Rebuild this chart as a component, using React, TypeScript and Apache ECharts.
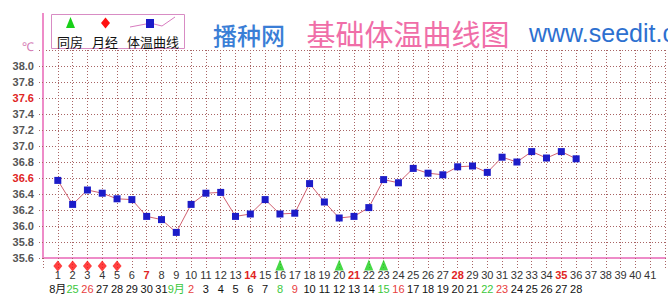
import React, { useEffect, useRef } from "react";
import * as echarts from "echarts";

// ---- data ----
const temps: number[] = [
  36.57, 36.27, 36.45, 36.41, 36.34, 36.33, 36.12, 36.08, 35.92, 36.27,
  36.41, 36.42, 36.12, 36.15, 36.33, 36.15, 36.16, 36.53, 36.3, 36.1,
  36.12, 36.23, 36.58, 36.54, 36.72, 36.66, 36.64, 36.74, 36.75, 36.67,
  36.86, 36.8, 36.93, 36.85, 36.93, 36.84,
];
const intercourseDays: number[] = [16, 20, 22, 23];
const periodDays: number[] = [1, 2, 3, 4, 5];
const redDayNumbers: number[] = [7, 14, 21, 28, 35];
const dateLabels: string[] = [
  "8月", "25", "26", "27", "28", "29", "30", "31", "9月", "2",
  "3", "4", "5", "6", "7", "8", "9", "10", "11", "12",
  "13", "14", "15", "16", "17", "18", "19", "20", "21", "22",
  "23", "24", "25", "26", "27", "28",
];
const greenDateDays: number[] = [2, 9, 16, 23, 30];
const redDateDays: number[] = [3, 10, 17, 24, 31];
const redYTicks: string[] = ["37.6", "36.6"];
const maxDay = 41;

const PINK = "#ee8cc8";
const GRIDC = "#a86464";

export default function App() {
  const ref = useRef<HTMLDivElement>(null);
  useEffect(() => {
    document.body.style.margin = "0";
    const chart = echarts.init(ref.current!, undefined, { renderer: "svg" });
    const lineData = temps.map((t, i) => [i + 1, t]);
    const option: any = {
      animation: false,
      backgroundColor: "#ffffff",
      grid: { left: 43, right: -5, top: 50, bottom: 45 },
      xAxis: {
        type: "value",
        min: 0,
        max: 42,
        interval: 1,
        axisLine: { show: true, lineStyle: { color: PINK, width: 2 } },
        axisTick: {
          show: true,
          inside: false,
          length: 10,
          lineStyle: { color: GRIDC, type: [1, 2], width: 1 },
        },
        splitLine: { show: true, lineStyle: { color: GRIDC, type: [1, 2], width: 1 } },
        axisLabel: {
          margin: 10,
          formatter: (v: number) => {
            if (v < 1 || v > maxDay || Math.round(v) !== v) return "";
            const top = redDayNumbers.includes(v) ? `{r|${v}}` : `{n|${v}}`;
            const d = dateLabels[v - 1];
            let bottom = "{d| }";
            if (d !== undefined) {
              const st = greenDateDays.includes(v) ? "g" : redDateDays.includes(v) ? "p" : "d";
              bottom = `{${st}|${d}}`;
            }
            return top + "\n" + bottom;
          },
          rich: {
            n: { color: "#333", fontSize: 11, fontFamily: "Arial", lineHeight: 14 },
            r: { color: "#e02424", fontSize: 11, fontFamily: "Arial", fontWeight: "bold", lineHeight: 14 },
            d: { color: "#111", fontSize: 11, fontFamily: "Arial, 'Noto Sans CJK SC'", lineHeight: 14 },
            g: { color: "#3cc83c", fontSize: 11, fontFamily: "Arial, 'Noto Sans CJK SC'", lineHeight: 14 },
            p: { color: "#e84040", fontSize: 11, fontFamily: "Arial", lineHeight: 14 },
          },
        },
      },
      yAxis: {
        type: "value",
        min: 35.6,
        max: 38.2,
        interval: 0.2,
        axisLine: { show: true, lineStyle: { color: PINK, width: 2 } },
        axisTick: {
          show: true,
          length: 6,
          lineStyle: { color: GRIDC, type: [1, 2], width: 1 },
        },
        splitLine: { show: true, lineStyle: { color: GRIDC, type: [1, 2], width: 1 } },
        axisLabel: {
          margin: 9,
          formatter: (v: number) => {
            const s = v.toFixed(1);
            if (s === "38.2") return "{c|℃}";
            return redYTicks.includes(s) ? `{r|${s}}` : `{n|${s}}`;
          },
          rich: {
            n: { color: "#555", fontSize: 11, fontWeight: "bold", fontFamily: "Arial" },
            r: { color: "#e02424", fontSize: 11, fontWeight: "bold", fontFamily: "Arial" },
            c: { color: "#d47ab4", fontSize: 12, fontFamily: "Arial", padding: [0, 0, 6, 0] },
          },
        },
      },
      series: [
        {
          type: "line",
          data: lineData,
          symbol: "rect",
          symbolSize: 7,
          itemStyle: { color: "#1c1cc8" },
          lineStyle: { color: "#d06070", width: 1 },
          z: 5,
        },
        {
          type: "scatter",
          data: periodDays.map((d) => [d, 35.6]),
          symbol: "diamond",
          symbolSize: [9, 11],
          symbolOffset: [0, 8],
          itemStyle: { color: "#ff1010" },
          clip: false,
          z: 6,
        },
        {
          type: "scatter",
          data: intercourseDays.map((d) => [d, 35.6]),
          symbol: "triangle",
          symbolSize: [9, 11],
          symbolOffset: [0, 7],
          itemStyle: { color: "#18d018" },
          clip: false,
          z: 6,
        },
      ],
      graphic: [
        { type: "line", shape: { x1: 43, y1: 13, x2: 43, y2: 52 }, style: { stroke: PINK, lineWidth: 2 }, z: 10 },
        { type: "rect", shape: { x: 51.5, y: 14.5, width: 133, height: 34 }, style: { fill: "#fff", stroke: "#d88cc4", lineWidth: 1 }, z: 10 },
        { type: "polygon", shape: { points: [[70.5, 17], [75, 28], [66, 28]] }, style: { fill: "#18d018" }, z: 11 },
        { type: "polygon", shape: { points: [[105.5, 17.5], [110, 23], [105.5, 28.5], [101, 23]] }, style: { fill: "#ff1010" }, z: 11 },
        { type: "polyline", shape: { points: [[130, 27], [146, 24], [154, 24], [162, 26], [175, 17]] }, style: { stroke: "#d87cc0", lineWidth: 1, fill: null }, z: 11 },
        { type: "rect", shape: { x: 146, y: 19, width: 8, height: 9 }, style: { fill: "#1c1cc8" }, z: 12 },
        { type: "text", x: 70, y: 41, style: { text: "同房", fill: "#111", font: "13px 'Noto Sans CJK SC'", align: "center", verticalAlign: "middle" }, z: 11 },
        { type: "text", x: 105, y: 41, style: { text: "月经", fill: "#111", font: "13px 'Noto Sans CJK SC'", align: "center", verticalAlign: "middle" }, z: 11 },
        { type: "text", x: 153, y: 41, style: { text: "体温曲线", fill: "#111", font: "13px 'Noto Sans CJK SC'", align: "center", verticalAlign: "middle" }, z: 11 },
        { type: "text", x: 249, y: 34, style: { text: "播种网", fill: "#3a7ed6", font: "500 24px 'Noto Sans CJK SC'", align: "center", verticalAlign: "middle" }, z: 11 },
        { type: "text", x: 408, y: 33, style: { text: "基础体温曲线图", fill: "#f06ea8", font: "29px 'Noto Sans CJK SC'", align: "center", verticalAlign: "middle" }, z: 11 },
        { type: "text", x: 529, y: 33, style: { text: "www.seedit.com", fill: "#2d70d0", font: "25px Arial", align: "left", verticalAlign: "middle" }, z: 11 },
      ],
    };
    chart.setOption(option);
    return () => chart.dispose();
  }, []);
  return <div ref={ref} style={{ width: 668, height: 303 }} />;
}
